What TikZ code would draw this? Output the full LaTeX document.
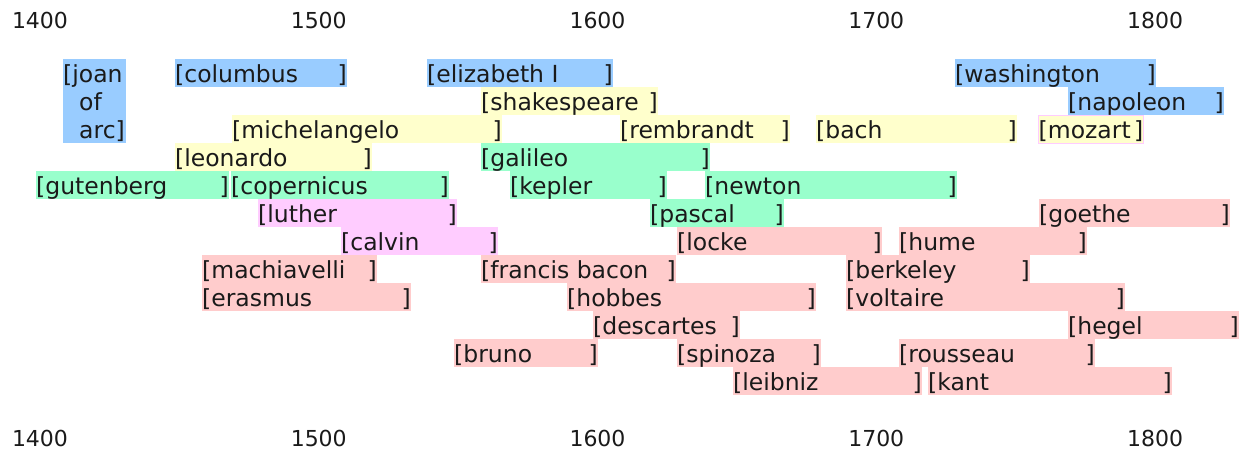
\documentclass[tikz,border=0pt]{standalone}
\usepackage{fontspec}
\setmainfont{DejaVu Sans}
\definecolor{rulerblue}{HTML}{99CCFF}
\definecolor{artyellow}{HTML}{FFFFCC}
\definecolor{sciencegreen}{HTML}{99FFCC}
\definecolor{faithpink}{HTML}{FFCCFF}
\definecolor{thinkerred}{HTML}{FFCCCC}
\definecolor{inkgray}{HTML}{1A1A1A}
\tikzset{
  ruler/.style={fill=rulerblue},
  artist/.style={fill=artyellow},
  scientist/.style={fill=sciencegreen},
  reformer/.style={fill=faithpink},
  thinker/.style={fill=thinkerred},
  namelabel/.style={inner sep=0pt, text=inkgray, font=\fontsize{23.5}{28}\selectfont},
  yearlabel/.style={inner sep=0pt, anchor=base, text=inkgray, font=\fontsize{22}{26}\selectfont}
}
% bar from x #3 to x #4 in row #5, text #6
\def\lifebar[#1](#2)(#3:#4:#5)#6{%
  \path[#1] (#3, {59+28*(#5-1)}) rectangle (#4, {87+28*(#5-1)});
  \node[namelabel, anchor=base west] (#2) at (#3, {82.5+28*(#5-1)}) {[#6};
  \node[namelabel, anchor=base east] (#2-end) at (#4, {82.5+28*(#5-1)}) {]};}

\begin{document}
\begin{tikzpicture}[x=1pt, y=-1pt]
			%%%%% START %%%%%
			\useasboundingbox[fill=white] (0, 0) rectangle (1249, 453);
			
			\foreach \yr [count=\i from 0] in {1400,1500,1600,1700,1800} {
				\node[yearlabel] (top\yr) at ({40+278.75*\i}, 28) {\yr};
				\node[yearlabel] (bot\yr) at ({40+278.75*\i}, 446) {\yr};
			}
			
			% rulers
			\fill[ruler] (63, 59) rectangle (126, 143);
			\node[namelabel, anchor=base west] (joan) at (63, 82.5) {[joan};
			\node[namelabel, anchor=base west] (joan-of) at (79, 110.5) {of};
			\node[namelabel, anchor=base west] (joan-arc) at (79, 138.5) {arc]};
			\lifebar[ruler](columbus)(175:347:1){columbus}
			\lifebar[ruler](elizabeth)(427:613:1){elizabeth I}
			\lifebar[ruler](washington)(955:1156:1){washington}
			\lifebar[ruler](napoleon)(1068:1224:2){napoleon}
			
			% artists
			\lifebar[artist](shakespeare)(481:658:2){shakespeare}
			\lifebar[artist](michelangelo)(232:502:3){michelangelo}
			\lifebar[artist](rembrandt)(620:790:3){rembrandt}
			\lifebar[artist](bach)(816:1017:3){bach}
			\lifebar[artist, draw=faithpink, line width=1pt](mozart)(1038.5:1143.5:3){mozart}
			\lifebar[artist](leonardo)(175:372:4){leonardo}
			
			% scientists
			\lifebar[scientist](galileo)(481:710:4){galileo}
			\lifebar[scientist](gutenberg)(36:229:5){gutenberg}
			\lifebar[scientist](copernicus)(231:449:5){copernicus}
			\lifebar[scientist](kepler)(510:667:5){kepler}
			\lifebar[scientist](newton)(705:957:5){newton}
			\lifebar[scientist](pascal)(650:784:6){pascal}
			
			% reformers
			\lifebar[reformer](luther)(258:457:6){luther}
			\lifebar[reformer](calvin)(341:498:7){calvin}
			
			% thinkers
			\lifebar[thinker](goethe)(1039:1230:6){goethe}
			\lifebar[thinker](locke)(677:882:7){locke}
			\lifebar[thinker](hume)(899:1087:7){hume}
			\lifebar[thinker](machiavelli)(202:377:8){machiavelli}
			\lifebar[thinker](bacon)(481:676:8){francis bacon}
			\lifebar[thinker](berkeley)(846:1030:8){berkeley}
			\lifebar[thinker](erasmus)(202:411:9){erasmus}
			\lifebar[thinker](hobbes)(567:816:9){hobbes}
			\lifebar[thinker](voltaire)(846:1125:9){voltaire}
			\lifebar[thinker](descartes)(593:740:10){descartes}
			\lifebar[thinker](hegel)(1068:1239:10){hegel}
			\lifebar[thinker](bruno)(454:598:11){bruno}
			\lifebar[thinker](spinoza)(677:821:11){spinoza}
			\lifebar[thinker](rousseau)(899:1095:11){rousseau}
			\lifebar[thinker](leibniz)(733:922:12){leibniz}
			\lifebar[thinker](kant)(928:1172:12){kant}
			
			%%%%% END %%%%%
\end{tikzpicture}
\end{document}
